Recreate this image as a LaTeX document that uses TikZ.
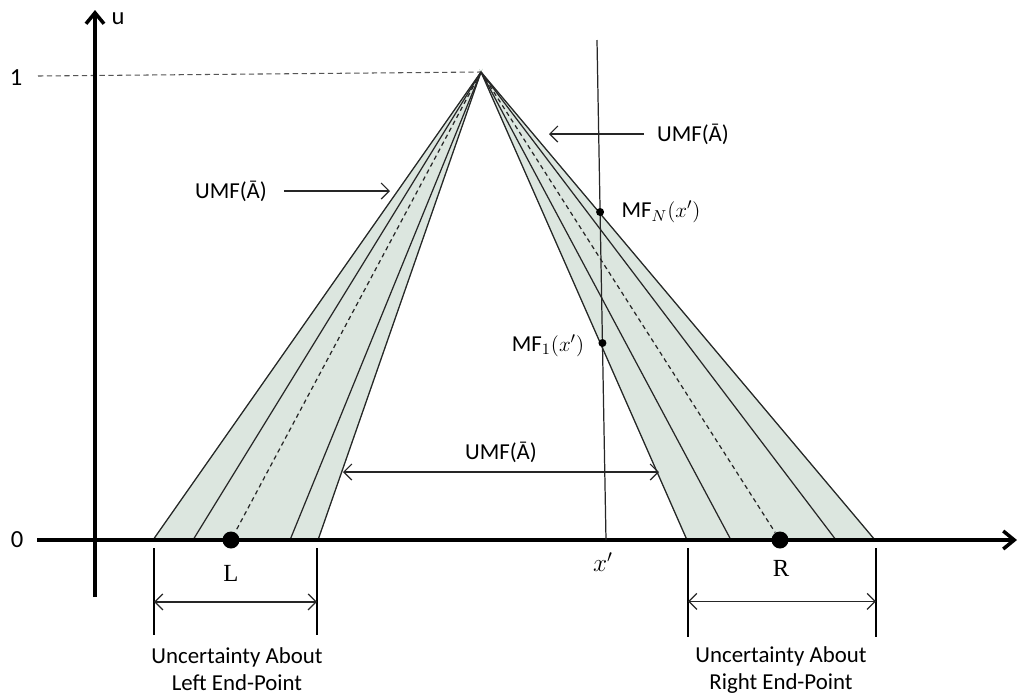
\documentclass[tikz,border=0pt]{standalone}
\usepackage{fontspec}
\setmainfont{Carlito}
\newfontfamily\capserif{Liberation Serif}
\usetikzlibrary{arrows.meta,calc}
\definecolor{Band}{HTML}{DCE6DF}
\definecolor{BandEdge}{HTML}{A9BFB0}
\definecolor{Ink}{HTML}{262626}
\definecolor{Guide}{HTML}{555555}
\tikzset{
  axis/.style={draw=black,line width=2pt,-{Straight Barb[length=2.2mm,width=3.6mm]}},
  band/.style={fill=Band,draw=BandEdge,line width=.6pt},
  mfline/.style={draw=Ink,line width=.7pt},
  midline/.style={draw=Ink,line width=.7pt,dash pattern=on 2.5pt off 2pt},
  guide/.style={draw=Guide,line width=.6pt,dash pattern=on 3pt off 2pt},
  pointer/.style={draw=Ink,line width=.7pt,-{Straight Barb[length=1.6mm,width=3.2mm]}},
  span/.style={draw=Ink,line width=.7pt,{Straight Barb[length=1.6mm,width=3.2mm]}-{Straight Barb[length=1.6mm,width=3.2mm]}},
  tickline/.style={draw=black,line width=.7pt},
  bigdot/.style={circle,fill=black,inner sep=0pt,minimum size=.34cm},
  smalldot/.style={circle,fill=black,inner sep=0pt,minimum size=.16cm},
  lbl/.style={font=\fontsize{13}{15}\selectfont,inner sep=1pt,align=center},
  axlbl/.style={font=\fontsize{14}{16}\selectfont,inner sep=1pt},
  caplbl/.style={font=\fontsize{14}{16}\selectfont\capserif,inner sep=1pt}
}
\begin{document}
\begin{tikzpicture}[x=0.02cm,y=-0.02cm]
  \useasboundingbox (0,0) rectangle (1019,694);
  \coordinate (apex) at (481,72);
  \coordinate (ybot) at (95,597);
  \coordinate (ytop) at (95,10);
  \coordinate (xleft) at (37,540);
  \coordinate (xright) at (1017,540);
  \path[band] (apex) -- (153,540) -- (318,540) -- cycle;
  \path[band] (apex) -- (687,540) -- (875,540) -- cycle;
  \foreach \x in {153,193,290,318,687,731,836,875}
    \draw[mfline] (apex) -- (\x,540);
  \draw[guide] (38,76) -- (apex);
  \draw[axis] (ybot) -- (ytop);
  \draw[axis] (xleft) -- (xright);
  \node[bigdot] (L) at (231,540) {};
  \node[bigdot] (R) at (780,540) {};
  \draw[midline] (apex) -- (L);
  \draw[midline] (apex) -- (R);
  \node[axlbl] (ulbl) at (118,19) {u};
  \node[axlbl] (onelbl) at (16,78) {1};
  \node[axlbl] (zerolbl) at (17,540) {0};
  \node[caplbl] (Llbl) at (231,573) {L};
  \node[caplbl] (Rlbl) at (781,568) {R};
  \coordinate (xtop) at (597,40);
  \coordinate (xbot) at (606,540);
  \draw[mfline] (xtop) -- (xbot);
  \node[axlbl] (xlbl) at (603,562) {$x'$};
  \node[smalldot] (mfn) at ($(xtop)!0.344!(xbot)$) {};
  \node[smalldot] (mfone) at ($(xtop)!0.606!(xbot)$) {};
  \node[lbl] (mfnlbl) at (661,212) {MF$_N(x')$};
  \node[lbl] (mfonelbl) at (548,346) {MF$_1(x')$};
  \node[lbl] (umfleft) at (231,191) {UMF(Ā)};
  \coordinate (umflefttip) at (390,191);
  \draw[pointer] ([xshift=.3cm]umfleft.east) -- (umflefttip);
  \node[lbl] (umfright) at (693,134) {UMF(Ā)};
  \coordinate (umfrighttip) at (549,134);
  \draw[pointer] ([xshift=-.22cm]umfright.west) -- (umfrighttip);
  \node[lbl] (umfgap) at (501,452) {UMF(Ā)};
  \coordinate (gapl) at (343,472);
  \coordinate (gapr) at (659,472);
  \draw[span] (gapl) -- (gapr);
  \coordinate (lla) at (154,548); \coordinate (llb) at (154,635);
  \coordinate (lra) at (317,548); \coordinate (lrb) at (317,635);
  \draw[tickline] (lla) -- (llb);
  \draw[tickline] (lra) -- (lrb);
  \draw[span] ($(lla)!0.62!(llb)$) -- ($(lra)!0.62!(lrb)$);
  \node[lbl] (leftnote) at (237,669) {Uncertainty About\\Left End-Point};
  \coordinate (rla) at (688,548); \coordinate (rlb) at (688,637);
  \coordinate (rra) at (876,548); \coordinate (rrb) at (876,637);
  \draw[tickline] (rla) -- (rlb);
  \draw[tickline] (rra) -- (rrb);
  \draw[span] ($(rla)!0.6!(rlb)$) -- ($(rra)!0.6!(rrb)$);
  \node[lbl] (rightnote) at (781,670) {Uncertainty About\\Right End-Point};
\end{tikzpicture}
\end{document}
